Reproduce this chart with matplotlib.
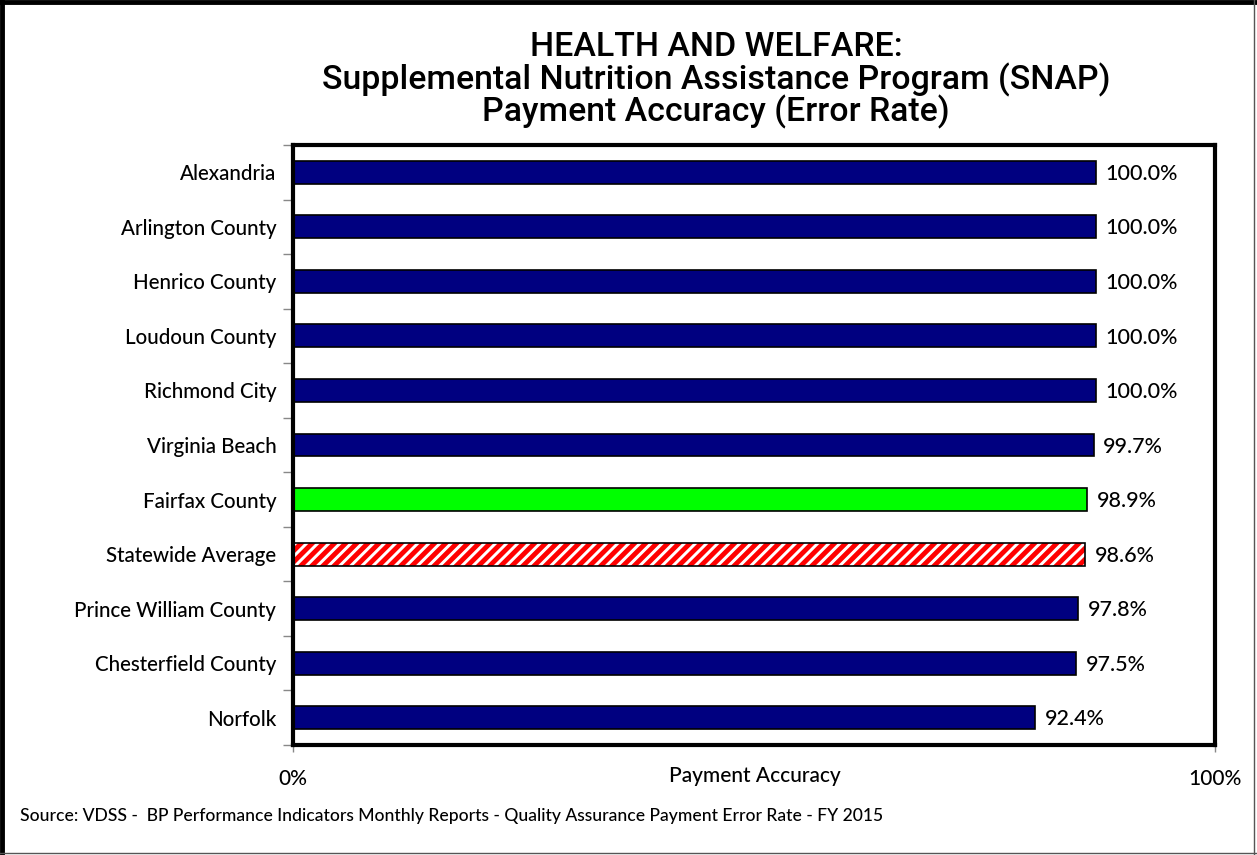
import matplotlib
matplotlib.use("Agg")
import matplotlib.pyplot as plt
from matplotlib.ticker import FixedLocator
import numpy as np

categories = ["Alexandria", "Arlington County", "Henrico County", "Loudoun County",
              "Richmond City", "Virginia Beach", "Fairfax County", "Statewide Average",
              "Prince William County", "Chesterfield County", "Norfolk"]
values = [100.0, 100.0, 100.0, 100.0, 100.0, 99.7, 98.9, 98.6, 97.8, 97.5, 92.4]
kinds = ["other"] * 6 + ["fairfax", "state"] + ["other"] * 3
title_lines = ["HEALTH AND WELFARE:",
               "Supplemental Nutrition Assistance Program (SNAP)",
               "Payment Accuracy (Error Rate)"]
xlabel = "Payment Accuracy"
source = "Source: VDSS -  BP Performance Indicators Monthly Reports - Quality Assurance Payment Error Rate - FY 2015"

plt.rcParams["hatch.linewidth"] = 3.5

W, H = 1257, 855
fig = plt.figure(figsize=(W / 100, H / 100), dpi=100)

# figure border
fig.add_artist(plt.Line2D([2 / W, 2 / W], [0, 1], transform=fig.transFigure, color="black", lw=3.5))
fig.add_artist(plt.Line2D([0, 1], [1 - 2 / H, 1 - 2 / H], transform=fig.transFigure, color="black", lw=3.5))
fig.add_artist(plt.Line2D([1 - 3 / W, 1 - 3 / W], [0, 1], transform=fig.transFigure, color="#555555", lw=1))
fig.add_artist(plt.Line2D([0, 1], [2 / H, 2 / H], transform=fig.transFigure, color="#555555", lw=1))

left, right, top, bottom = 293, 1215, 145, 745
ax = fig.add_axes([left / W, 1 - bottom / H, (right - left) / W, (bottom - top) / H])

lfont = "Lato"
n = len(categories)
y = np.arange(n)
fracs = np.array(values) / 100.0
xmax = 1.148
bh = 0.42
for yi, v, k in zip(y, fracs, kinds):
    if k == "fairfax":
        ax.barh(yi, v, height=bh, color="#00ff00", edgecolor="black", linewidth=1.2)
    elif k == "state":
        ax.barh(yi, v, height=bh, color="white", edgecolor="#ff0000", hatch="///", linewidth=0)
        ax.barh(yi, v, height=bh, color="none", edgecolor="black", linewidth=1.2)
    else:
        ax.barh(yi, v, height=bh, color="#000080", edgecolor="black", linewidth=1.2)
    ax.text(v + 0.012, yi + 0.03, f"{v * 100:.1f}%", va="center", ha="left",
            fontsize=15.5, family=lfont, fontweight="medium", color="black")

ax.set_xlim(0, xmax)
ax.set_ylim(n - 0.5, -0.5)
ax.set_yticks(y)
ax.set_yticklabels(categories, fontsize=14.8, family=lfont, fontweight="medium")
ax.yaxis.set_minor_locator(FixedLocator(np.arange(-0.5, n, 1.0)))
ax.tick_params(axis="y", which="major", length=0, pad=12)
ax.tick_params(axis="y", which="minor", length=7, color="#888888", width=1, direction="out")
ax.set_xticks([0, xmax])
ax.set_xticklabels(["0%", "100%"], fontsize=15, family=lfont, fontweight="medium")
ax.tick_params(axis="x", length=5, color="#888888", width=1, pad=12)
for sp in ax.spines.values():
    sp.set_linewidth(3)
    sp.set_color("black")

fig.text(755 / W, 1 - 776 / H, xlabel, ha="center", va="center", fontsize=15,
         family=lfont, fontweight="medium")
fig.text(20 / W, 1 - 816 / H, source, ha="left", va="center", fontsize=12.6,
         family=lfont, fontweight="medium")

tfam = ["Roboto", "DejaVu Sans"]
for t, yy in zip(title_lines, [47, 80, 112]):
    fig.text(716 / W, 1 - yy / H, t, ha="center", va="center", fontsize=24.4,
             family=tfam, fontweight="medium")

fig.savefig("out.png", dpi=100)
